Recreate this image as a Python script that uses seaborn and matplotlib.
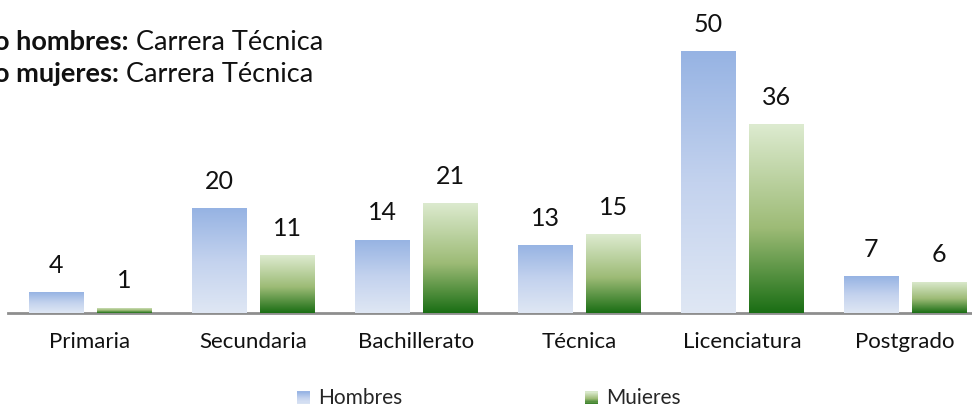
import numpy as np
import pandas as pd
import matplotlib
matplotlib.use("Agg")
import matplotlib.pyplot as plt
import seaborn as sns
from matplotlib.colors import LinearSegmentedColormap
from matplotlib.patches import Rectangle
from matplotlib.legend_handler import HandlerBase

# ===== DATOS =====
niveles = ["Primaria", "Secundaria", "Bachillerato", "Técnica", "Licenciatura", "Postgrado"]
hombres = [4, 20, 14, 13, 50, 7]
mujeres = [1, 11, 21, 15, 36, 6]
series = ["Hombres", "Mujeres"]

df = pd.DataFrame({
    "nivel": niveles * 2,
    "valor": hombres + mujeres,
    "sexo": [series[0]] * len(niveles) + [series[1]] * len(niveles),
})

# degradados (abajo -> arriba)
cmap_h = LinearSegmentedColormap.from_list("h", ["#dfe7f4", "#c3d2ee", "#96b3e3"])
cmap_m = LinearSegmentedColormap.from_list("m", [(0, "#1a6e14"), (0.45, "#9dbb76"), (1, "#ddebd0")])
cmaps = {"Hombres": cmap_h, "Mujeres": cmap_m}

sns.set_theme(style="white")
plt.rcParams["font.family"] = ["Lato", "DejaVu Sans"]

W, H = 972, 404
fig = plt.figure(figsize=(W / 100, H / 100), dpi=100)
ax = fig.add_axes([8 / W, (H - 313) / H, (W - 8) / W, 313 / H])

sns.barplot(data=df, x="nivel", y="valor", hue="sexo", order=niveles,
            hue_order=series, width=0.834, gap=0.2, ax=ax, legend=False)

# cada barra se rellena con su propio degradado vertical
grad = np.linspace(0, 1, 256).reshape(-1, 1)
for cont, nombre in zip(ax.containers, series):
    for bar in cont:
        x0, y0 = bar.get_x(), bar.get_y()
        w, h = bar.get_width(), bar.get_height()
        bar.set_facecolor("none")
        bar.set_edgecolor("none")
        img = ax.imshow(grad, extent=[x0, x0 + w, y0, y0 + h], origin="lower",
                        aspect="auto", cmap=cmaps[nombre], zorder=2)
        img.set_clip_path(bar)
    ax.bar_label(cont, padding=11, fontsize=18, color="#111111")

ax.set_xlim(-0.503, 5.41)
ax.set_ylim(0, 59.7)
ax.set_xlabel("")
ax.set_ylabel("")
ax.set_yticks([])
for s in ["top", "left", "right"]:
    ax.spines[s].set_visible(False)
ax.spines["bottom"].set_color("#8e8e8e")
ax.spines["bottom"].set_linewidth(2)
ax.spines["bottom"].set_zorder(1)
ax.tick_params(axis="x", length=0, pad=14, labelsize=16, labelcolor="#111111")


# ===== LEYENDA CON DEGRADADO =====
class HandlerGrad(HandlerBase):
    def __init__(self, cmap):
        super().__init__()
        self.cmap = cmap

    def create_artists(self, legend, orig, xd, yd, width, height, fontsize, trans):
        n = 12
        arts = []
        for i in range(n):
            r = Rectangle((xd, yd + height * i / n), width, height / n + 0.1,
                          facecolor=self.cmap((i + 0.5) / n), edgecolor="none",
                          transform=trans)
            arts.append(r)
        return arts


h_h = Rectangle((0, 0), 1, 1)
h_m = Rectangle((0, 0), 1, 1)
fig.legend([h_h, h_m], series, loc="center", bbox_to_anchor=(489 / W, (H - 398) / H),
           ncol=2, frameon=False, fontsize=15, handlelength=0.6, handleheight=0.6,
           handletextpad=0.4, columnspacing=8.8,
           handler_map={h_h: HandlerGrad(cmap_h), h_m: HandlerGrad(cmap_m)})

# ===== TEXTO ARRIBA A LA IZQUIERDA =====
renderer = fig.canvas.get_renderer()
for linea, (negrita, normal) in enumerate([("o hombres:", " Carrera Técnica"),
                                           ("o mujeres:", " Carrera Técnica")]):
    yb = 1 - (50 + 32 * linea) / H
    t1 = fig.text(-6 / W, yb, negrita, fontsize=19.5, fontweight="bold",
                  va="baseline", ha="left", color="#111111")
    bb = t1.get_window_extent(renderer)
    fig.text(bb.x1 / W, yb, normal, fontsize=19.5, va="baseline", ha="left",
             color="#111111")

fig.savefig("out.png", dpi=100)
